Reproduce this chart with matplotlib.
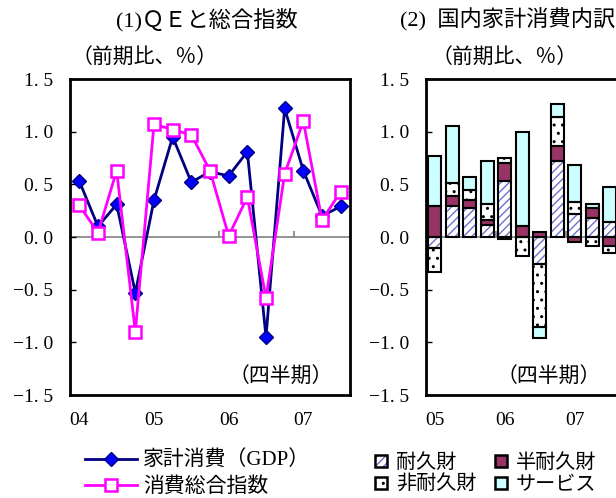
import numpy as np
import matplotlib.pyplot as plt
from matplotlib.patches import Patch
from matplotlib.legend_handler import HandlerTuple

plt.rcParams['font.family'] = ['Liberation Serif', 'Noto Sans CJK JP']
plt.rcParams['hatch.linewidth'] = 1.0

# (1) QE and consumption index, 04Q1 - 07Q3, q/q %
gdp_cons = [0.53, 0.10, 0.31, -0.53, 0.35, 0.95, 0.52, 0.62, 0.58, 0.81, -0.95, 1.22, 0.63, 0.20, 0.29]
total_idx = [0.30, 0.04, 0.63, -0.90, 1.07, 1.02, 0.97, 0.63, 0.01, 0.38, -0.58, 0.60, 1.10, 0.16, 0.43]
years1 = ['04', '05', '06', '07']

# (2) breakdown, 05Q1 - 07Q3
durable = [-0.10, 0.29, 0.28, 0.11, 0.53, 0.00, -0.26, 0.72, 0.22, 0.18, 0.14]
semi_durable = [0.29, 0.10, 0.07, 0.05, 0.17, 0.10, 0.05, 0.14, -0.05, 0.10, -0.09]
non_durable = [-0.23, 0.12, 0.10, 0.15, 0.05, -0.18, -0.59, 0.28, 0.11, -0.09, -0.06]
services = [0.48, 0.54, 0.12, 0.41, -0.02, 0.90, -0.11, 0.12, 0.35, 0.03, 0.33]
years2 = ['05', '06', '07']

yticks = [-1.5, -1.0, -0.5, 0.0, 0.5, 1.0, 1.5]
ylabels = ['−1. 5', '−1. 0', '−0. 5', '0. 0', '0. 5', '1. 0', '1. 5']

W, H = 616, 498
fig = plt.figure(figsize=(W / 100, H / 100), dpi=100)

def fx(px):
    return px / W

def fy(py):
    return 1 - py / H

def style_axes(ax, n, years):
    ax.set_xlim(-0.5, n - 0.5)
    ax.set_ylim(-1.5, 1.5)
    ax.set_yticks(yticks)
    ax.set_yticklabels(ylabels)
    ax.set_xticks(range(0, n, 4))
    ax.set_xticklabels(years)
    ax.tick_params(axis='y', direction='in', length=4, width=1, labelsize=14, pad=12)
    ax.tick_params(axis='x', length=0, labelsize=14, pad=12)
    for s in ax.spines.values():
        s.set_linewidth(2.0)
    ax.axhline(0, color='#808080', lw=1.2, zorder=1)
    ax.vlines(np.arange(3.5, n - 0.5, 4), 0, 0.06, color='#808080', lw=1.2, zorder=1)

# ---- left panel
ax1 = fig.add_axes([fx(70), fy(395), fx(280), 316 / H])
x1 = np.arange(len(gdp_cons))
l1, = ax1.plot(x1, gdp_cons, color='#000080', lw=2, marker='D', ms=7,
               mfc='#0000FF', mec='#000080', mew=1, zorder=3)
l2, = ax1.plot(x1, total_idx, color='#FF00FF', lw=2, marker='s', ms=9,
               mfc='white', mec='#FF00FF', mew=1.8, zorder=4)
style_axes(ax1, len(gdp_cons), years1)

# ---- right panel (runs past the right edge of the picture)
ax2 = fig.add_axes([fx(426), fy(395), fx(192.5), 316 / H])
x2 = np.arange(len(durable))
series = [durable, semi_durable, non_durable, services]
faces = ['white', '#993366', 'white', '#CCFFFF']
hatches = ['////', None, '..', None]
hcolors = ['#7070CC', '#993366', 'black', '#CCFFFF']
pos = np.zeros(len(x2))
neg = np.zeros(len(x2))
bw = 0.74
for vals, fc, h, hc in zip(series, faces, hatches, hcolors):
    v = np.array(vals)
    bot = np.where(v >= 0, pos, neg)
    ax2.bar(x2, v, bw, bottom=bot, facecolor=fc, edgecolor=hc, hatch=h, linewidth=0, zorder=2)
    ax2.bar(x2, v, bw, bottom=bot, fill=False, edgecolor='black', linewidth=1.5, zorder=3)
    pos += np.where(v >= 0, v, 0)
    neg += np.where(v < 0, v, 0)
style_axes(ax2, len(durable), years2)

# ---- texts
fig.text(fx(207), fy(20), '(1)ＱＥと総合指数', ha='center', va='center', fontsize=16)
fig.text(fx(400), fy(20), '(2)  国内家計消費内訳', ha='left', va='center', fontsize=16)
fig.text(fx(72), fy(59), '（前期比、％）', ha='left', va='center', fontsize=15)
fig.text(fx(432), fy(59), '（前期比、％）', ha='left', va='center', fontsize=15)
fig.text(fx(333), fy(378), '（四半期）', ha='right', va='center', fontsize=15)
fig.text(fx(601), fy(378), '（四半期）', ha='right', va='center', fontsize=15)

# ---- legends
fig.legend([l1, l2], ['家計消費（GDP）', '消費総合指数'], loc='upper left',
           bbox_to_anchor=(fx(85), fy(451)), frameon=False, fontsize=15,
           handlelength=2.5, handletextpad=0.3, borderpad=0, borderaxespad=0,
           labelspacing=0.3)

def leg_patch(fc, h, hc):
    return (Patch(facecolor=fc, edgecolor=hc, hatch=h, linewidth=0),
            Patch(fill=False, edgecolor='black', linewidth=1.8))

handles = [leg_patch(f, h, c) for f, h, c in zip(faces, hatches, hcolors)]
labels = ['耐久財', '半耐久財', '非耐久財', 'サービス']
order = [0, 2, 1, 3]
fig.legend([handles[i] for i in order], [labels[i] for i in order], loc='upper left',
           bbox_to_anchor=(fx(375), fy(454)), frameon=False, fontsize=14.5, ncol=2,
           handler_map={tuple: HandlerTuple(ndivide=1)},
           handlelength=0.6, handleheight=0.6, handletextpad=0.45,
           columnspacing=0.9, borderpad=0, borderaxespad=0, labelspacing=0.15)

fig.savefig('out.png', dpi=100)
